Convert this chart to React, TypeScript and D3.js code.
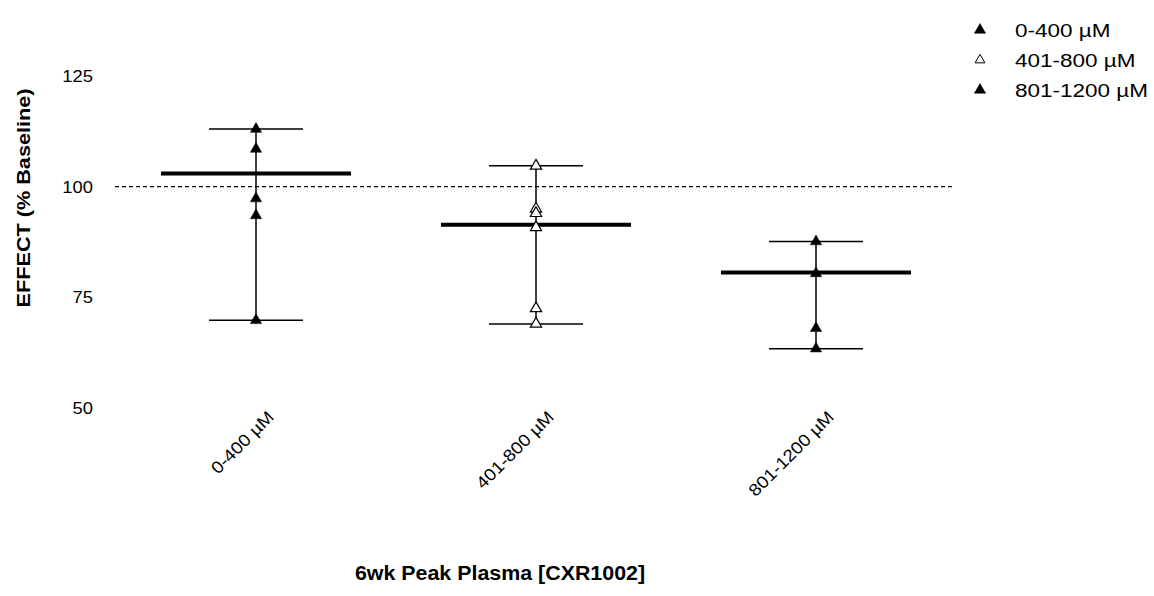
import React from "react";
import * as d3 from "d3";

const categories = ["0-400 µM", "401-800 µM", "801-1200 µM"];
const legendLabels = ["0-400 µM", "401-800 µM", "801-1200 µM"];
const filled = [true, false, true];
const group1 = [113, 108.5, 97.3, 93.5, 69.8];
const group2 = [104.7, 95, 94, 90.8, 72.5, 69];
const group3 = [87.6, 80.4, 68, 63.4];
const means = [103, 91.4, 80.6];
const yTicks = [50, 75, 100, 125];
const baseline = 100;

const W = 1154;
const H = 596;

export default function App() {
  const groups = [group1, group2, group3];
  const x = d3.scaleBand<string>().domain(categories).range([116, 956]);
  const y = d3.scaleLinear().domain([50, 125]).range([408, 76]);
  const tri = d3.symbol().type(d3.symbolTriangle).size(55)();
  const triSmall = d3.symbol().type(d3.symbolTriangle).size(42)();
  const font = "Arial, 'Liberation Sans', sans-serif";
  const cx = (c: string) => (x(c) as number) + x.bandwidth() / 2;

  return (
    <svg width={W} height={H} style={{ position: "absolute", left: 0, top: 0, background: "#fff" }} fontFamily={font}>
      {/* y tick labels */}
      {yTicks.map((t) => (
        <text key={t} transform={`translate(93, ${y(t) + 6}) scale(1.08,1)`} textAnchor="end" fontSize={17} fill="#000">
          {t}
        </text>
      ))}
      {/* y title */}
      <text
        transform={`translate(25, ${198}) rotate(-90) scale(1.14,1)`}
        textAnchor="middle"
        fontSize={19}
        fontWeight="bold"
        fill="#000"
        dominantBaseline="middle"
      >
        EFFECT (% Baseline)
      </text>
      {/* baseline dotted line */}
      <line
        x1={115}
        x2={952}
        y1={y(baseline)}
        y2={y(baseline)}
        stroke="#000"
        strokeWidth={1.3}
        strokeDasharray="4,3"
      />
      {/* groups */}
      {groups.map((vals, i) => {
        const c = categories[i];
        const px = cx(c);
        const mn = d3.min(vals) as number;
        const mx = d3.max(vals) as number;
        return (
          <g key={c}>
            <line x1={px} x2={px} y1={y(mx)} y2={y(mn)} stroke="#000" strokeWidth={1.5} />
            <line x1={px - 47} x2={px + 47} y1={y(mx)} y2={y(mx)} stroke="#000" strokeWidth={1.5} />
            <line x1={px - 47} x2={px + 47} y1={y(mn)} y2={y(mn)} stroke="#000" strokeWidth={1.5} />
            <line x1={px - 95} x2={px + 95} y1={y(means[i])} y2={y(means[i])} stroke="#000" strokeWidth={4} />
            {vals.map((v, j) => (
              <path
                key={j}
                d={tri}
                transform={`translate(${px}, ${y(v)})`}
                fill={filled[i] ? "#000" : "#fff"}
                stroke="#000"
                strokeWidth={filled[i] ? 0.5 : 1.2}
              />
            ))}
            <text
              transform={`translate(${px + 19}, ${418}) rotate(-45) scale(1.12,1)`}
              textAnchor="end"
              fontSize={17}
              fill="#000"
            >
              {c}
            </text>
          </g>
        );
      })}
      {/* x title */}
      <text transform={`translate(500, 580) scale(1.07,1)`} textAnchor="middle" fontSize={20} fontWeight="bold" fill="#000">
        6wk Peak Plasma [CXR1002]
      </text>
      {/* legend */}
      {legendLabels.map((l, i) => (
        <g key={l}>
          <path
            d={i === 1 ? triSmall : tri}
            transform={`translate(980, ${30 + i * 30})`}
            fill={filled[i] ? "#000" : "#fff"}
            stroke="#000"
            strokeWidth={filled[i] ? 0.5 : 1}
          />
          <text transform={`translate(1015, ${37 + i * 30}) scale(1.25,1)`} fontSize={18} fill="#000">
            {l}
          </text>
        </g>
      ))}
    </svg>
  );
}
